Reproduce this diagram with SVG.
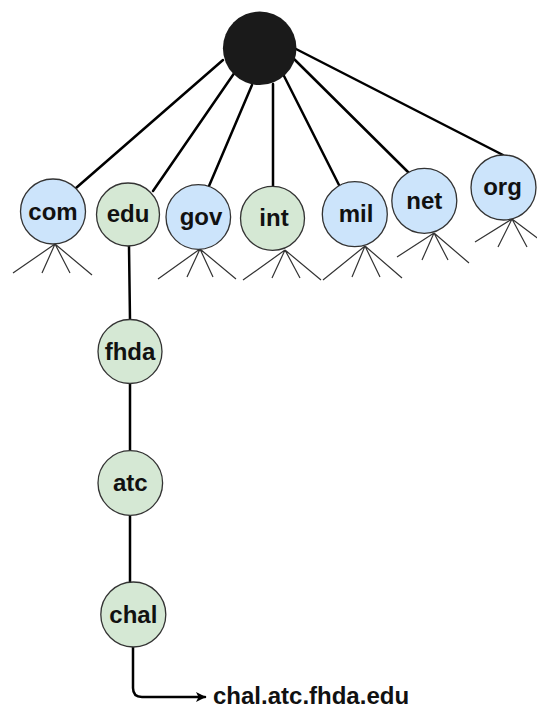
<svg xmlns="http://www.w3.org/2000/svg" width="537" height="709" viewBox="0 0 537 709">
<defs>
<style>
.blue{fill:#cce4fb;stroke:#333;stroke-width:1.3}
.green{fill:#d5e8d4;stroke:#333;stroke-width:1.3}
.lbl{font-family:"Liberation Sans",Arial,sans-serif;font-weight:bold;font-size:24px;fill:#111;text-anchor:middle}
.edge{stroke:#000;stroke-width:2.5;fill:none;stroke-linecap:round}
.fan{stroke:#333;stroke-width:1.2;fill:none}
</style>
<marker id="arr" viewBox="0 0 10 10" refX="9" refY="5" markerWidth="10" markerHeight="10" markerUnits="userSpaceOnUse" orient="auto">
<path d="M0,0 L10,5 L0,10 L2.5,5 Z" fill="#000"/>
</marker>
</defs>
<rect width="537" height="709" fill="#fff"/>
<g id="connectors">
<line class="edge" x1="223" y1="60" x2="76" y2="188"/>
<line class="edge" x1="235" y1="72" x2="153" y2="191"/>
<line class="edge" x1="252" y1="85" x2="209" y2="186"/>
<line class="edge" x1="273" y1="84" x2="273" y2="187"/>
<line class="edge" x1="283" y1="74" x2="339" y2="185"/>
<line class="edge" x1="292" y1="57" x2="409" y2="173"/>
<line class="edge" x1="296" y1="49" x2="503" y2="155"/>
<line class="edge" x1="129" y1="246" x2="130" y2="320"/>
<line class="edge" x1="130" y1="383" x2="130" y2="451"/>
<line class="edge" x1="130" y1="515" x2="130" y2="582"/>
<path class="edge" d="M133,647 L133,688 Q133,697 142,697 L205,697" marker-end="url(#arr)"/>
</g>
<g id="fans">
<path class="fan" d="M55,244 L13,273 M55,244 L42,273 M55,244 L70,273 M55,244 L92,275"/>
<path class="fan" d="M200,249 L158,279 M200,249 L187,277 M200,249 L213,277 M200,249 L236,279"/>
<path class="fan" d="M285,250 L243,280 M285,250 L272,278 M285,250 L300,278 M285,250 L321,280"/>
<path class="fan" d="M365,246 L323,280 M365,246 L352,277 M365,246 L380,277 M365,246 L402,278"/>
<path class="fan" d="M434,233 L397,257 M434,233 L422,260 M434,233 L448,260 M434,233 L469,263"/>
<path class="fan" d="M512,219 L475,242 M512,219 L498,247 M512,219 L527,247 M512,219 L540,240"/>
</g>
<g id="root"><circle cx="259.7" cy="48.3" r="36.8" fill="#1a1a1a"/></g>
<g id="com"><circle class="blue" cx="53" cy="211.5" r="32.5"/><text class="lbl" x="53" y="219.5">com</text></g>
<g id="edu"><circle class="green" cx="128" cy="214.5" r="31.5"/><text class="lbl" x="128" y="222">edu</text></g>
<g id="gov"><circle class="blue" cx="198.3" cy="217" r="32.3"/><text class="lbl" x="201" y="225">gov</text></g>
<g id="int"><circle class="green" cx="272.5" cy="218.3" r="32"/><text class="lbl" x="274" y="226">int</text></g>
<g id="mil"><circle class="blue" cx="354.8" cy="214.2" r="32.5"/><text class="lbl" x="356" y="222">mil</text></g>
<g id="net"><circle class="blue" cx="424.3" cy="200.8" r="32.5"/><text class="lbl" x="424.3" y="208.5">net</text></g>
<g id="org"><circle class="blue" cx="503.5" cy="187.5" r="32.5"/><text class="lbl" x="502.5" y="195">org</text></g>
<g id="fhda"><circle class="green" cx="130" cy="351.5" r="32"/><text class="lbl" x="130" y="359.5">fhda</text></g>
<g id="atc"><circle class="green" cx="130.3" cy="483" r="32.3"/><text class="lbl" x="130.3" y="491">atc</text></g>
<g id="chal"><circle class="green" cx="133.3" cy="614.5" r="32.5"/><text class="lbl" x="133.3" y="622.5">chal</text></g>
<g id="label"><text x="213" y="704" style="font-family:'Liberation Sans',Arial,sans-serif;font-weight:bold;font-size:24px;fill:#111">chal.atc.fhda.edu</text></g>
</svg>
